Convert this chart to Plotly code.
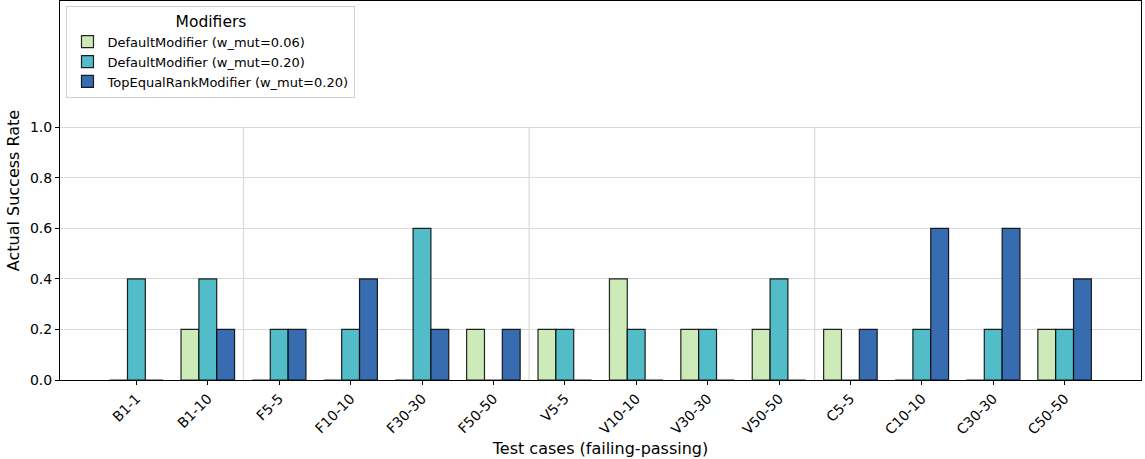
import plotly.graph_objects as go

categories = ["B1-1", "B1-10", "F5-5", "F10-10", "F30-30", "F50-50", "V5-5",
              "V10-10", "V30-30", "V50-50", "C5-5", "C10-10", "C30-30", "C50-50"]

default_006 = [0.0, 0.2, 0.0, 0.0, 0.0, 0.2, 0.2, 0.4, 0.2, 0.2, 0.2, 0.0, 0.0, 0.2]
default_020 = [0.4, 0.4, 0.2, 0.2, 0.6, 0.0, 0.2, 0.2, 0.2, 0.4, 0.0, 0.2, 0.2, 0.2]
top_equal_020 = [0.0, 0.2, 0.2, 0.4, 0.2, 0.2, 0.0, 0.0, 0.0, 0.0, 0.2, 0.6, 0.6, 0.4]

series_names = ["DefaultModifier (w_mut=0.06)",
                "DefaultModifier (w_mut=0.20)",
                "TopEqualRankModifier (w_mut=0.20)"]
series_values = [default_006, default_020, top_equal_020]
series_colors = ["#cdebb9", "#52bdc8", "#386cb0"]

# group boundaries (between B/F, F/V, V/C families)
group_separators = [1.5, 5.5, 9.5]
y_ticks = [0.0, 0.2, 0.4, 0.6, 0.8, 1.0]

font_family = "DejaVu Sans"
fig = go.Figure()
for name, vals, color in zip(series_names, series_values, series_colors):
    fig.add_trace(go.Bar(
        x=categories, y=vals, name=name,
        marker=dict(color=color, line=dict(color="rgba(0,0,0,0.85)", width=1.2)),
    ))

for sx in group_separators:
    fig.add_shape(type="line", xref="x", yref="y", x0=sx, x1=sx, y0=0, y1=1.0,
                  line=dict(color="#d9d9d9", width=1.2), layer="below")

fig.update_layout(
    width=1145, height=459,
    margin=dict(l=60, r=4, t=1, b=79),
    plot_bgcolor="white", paper_bgcolor="white",
    barmode="group", bargap=0.25, bargroupgap=0,
    font=dict(family=font_family, size=13, color="black"),
    legend=dict(
        title=dict(text="Modifiers", side="top center", font=dict(size=15.5)),
        x=0.006, y=0.988, xanchor="left", yanchor="top",
        bgcolor="white", bordercolor="#d0d0d0", borderwidth=1,
        font=dict(size=13), tracegroupgap=2, itemwidth=30,
    ),
    showlegend=True,
)

fig.update_xaxes(
    type="category", range=[-1.07, 14.07],
    tickangle=-45, ticks="outside", ticklen=4, tickcolor="black",
    showline=True, linecolor="black", linewidth=1, mirror=True,
    showgrid=False, tickfont=dict(size=14),
    title=dict(text="Test cases (failing-passing)", font=dict(size=16), standoff=6),
)
fig.update_yaxes(
    range=[0, 1.5], tickvals=y_ticks, ticktext=[f"{v:.1f}" for v in y_ticks],
    ticks="outside", ticklen=4, tickcolor="black",
    showline=True, linecolor="black", linewidth=1, mirror=True,
    showgrid=True, gridcolor="#d9d9d9", gridwidth=1, zeroline=False,
    tickfont=dict(size=14),
    title=dict(text="Actual Success Rate", font=dict(size=16), standoff=6),
)

fig.write_html("out.html")
